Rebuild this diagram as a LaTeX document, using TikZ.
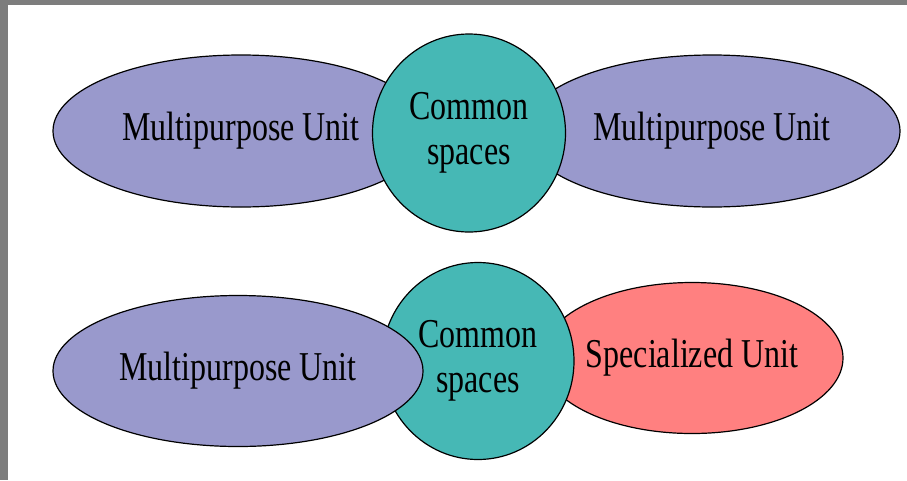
\documentclass[tikz,border=0pt]{standalone}
\usepackage{fontspec}
\newfontfamily\diagfont[FakeStretch=0.78]{Liberation Serif}
\usepackage{tikz}
\usetikzlibrary{shapes.geometric}
\definecolor{unitpurple}{RGB}{153,153,204}
\definecolor{hubteal}{RGB}{70,184,181}
\definecolor{specred}{RGB}{255,128,128}
\definecolor{framegray}{RGB}{125,125,125}
\tikzset{
  unit/.style = {ellipse, draw = black, line width = 1.2pt, fill = unitpurple, inner sep = 0pt,
                 font = \diagfont\fontsize{41}{45}\selectfont},
  hub/.style  = {ellipse, draw = black, line width = 1.2pt, fill = hubteal, inner sep = 0pt, align = center,
                 font = \diagfont\fontsize{41}{45}\selectfont},
}

\begin{document}
\begin{tikzpicture}[x = 1pt, y = -1pt]
            \useasboundingbox (0,0) rectangle (907,480);
            \fill[framegray] (0,0) rectangle (907,480);
            \fill[white] (8,5) rectangle (907,480);
            % top row
            \node (topleft) at (241,131) [unit, minimum width = 376pt, minimum height = 152pt] {Multipurpose Unit};
            \node (topright) at (712,131) [unit, minimum width = 376pt, minimum height = 152pt] {Multipurpose Unit};
            \node (tophub) at (469,133) [hub, minimum width = 193pt, minimum height = 198pt] {Common\\spaces};
            % bottom row
            \node (special) at (692,358) [unit, fill = specred, minimum width = 302pt, minimum height = 151pt] {Specialized Unit};
            \node (bottomhub) at (478,361) [hub, minimum width = 192pt, minimum height = 197pt] {Common\\spaces};
            \node (bottomleft) at (238,371) [unit, minimum width = 370pt, minimum height = 151pt] {Multipurpose Unit};
          \end{tikzpicture}
\end{document}
